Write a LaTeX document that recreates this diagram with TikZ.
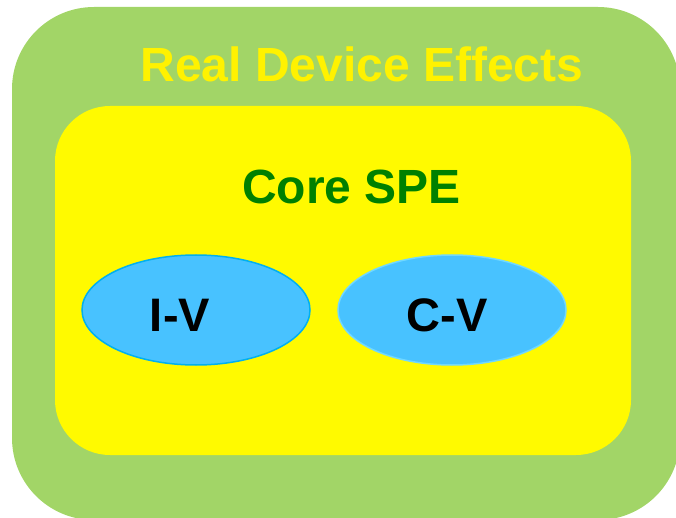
\documentclass[tikz,border=0pt]{standalone}
\usepackage{fontspec}
\setmainfont{Liberation Sans}
\usetikzlibrary{shapes.geometric}
\definecolor{outergreen}{HTML}{A2D567}
\definecolor{coreyellow}{HTML}{FFFA00}
\definecolor{ellfill}{HTML}{48C2FF}
\definecolor{ellstrokeA}{HTML}{00B0F0}
\definecolor{ellstrokeB}{HTML}{70D8FF}
\definecolor{coregreen}{HTML}{008000}
\tikzset{
  panel/.style={rectangle, inner sep=0pt, draw=none},
  bubble/.style={ellipse, fill=ellfill, line width=1.5pt, minimum width=228pt, minimum height=110pt, inner sep=0pt},
  bigtext/.style={anchor=base, inner sep=0pt, font=\fontsize{47}{56}\selectfont\bfseries},
  headtext/.style={anchor=base, inner sep=0pt, font=\fontsize{48}{56}\selectfont\bfseries}
}
\begin{document}
\begin{tikzpicture}[x=1pt,y=-1pt]
\useasboundingbox (0,0) rectangle (676,518);
\clip (0,0) rectangle (676,518);
\node[panel, fill=outergreen, rounded corners=82pt, minimum width=668pt, minimum height=513pt] (outer) at (346,263.5) {};
\node[panel, fill=coreyellow, rounded corners=55pt, minimum width=576pt, minimum height=349pt] (core) at (343,280.5) {};
\node[bubble, draw=ellstrokeA] (iv) at (196,310) {};
\node[bubble, draw=ellstrokeB] (cv) at (452,310) {};
\node[headtext, text=yellow] (title) at (362,82) {Real Device Effects};
\node[headtext, text=coregreen] (coretitle) at (351.5,204) {Core SPE};
\node[bigtext, text=black] (ivtext) at (180,331) {I-V};
\node[bigtext, text=black] (cvtext) at (447,331) {C-V};
\end{tikzpicture}
\end{document}
